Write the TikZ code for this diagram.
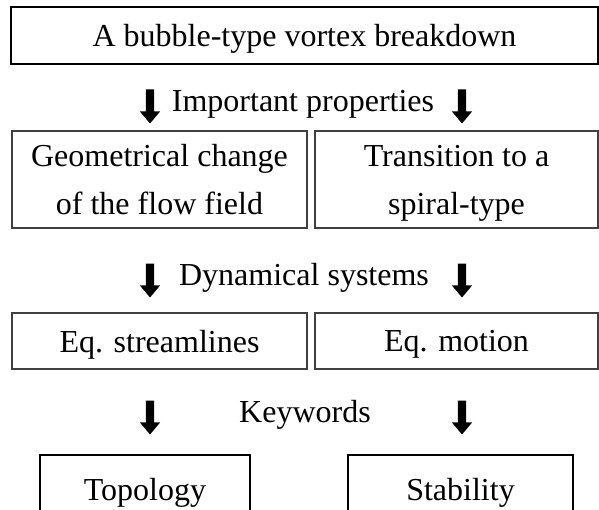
\documentclass[tikz,border=0pt]{standalone}
\usepackage{fontspec}
\setmainfont{Liberation Serif}
\usepackage{tikz}
\usetikzlibrary{arrows.meta}
\usetikzlibrary{positioning, shapes.arrows}
\tikzset{
main box/.style = { rectangle, draw = black, line width = 2pt, fill = white, minimum width = 587pt, minimum height = 57pt, text depth = 0pt },
sub box/.style = { rectangle, draw = black!75, line width = 1.2pt, fill = white, align = center, text depth = 0pt },
key box/.style = { rectangle, draw = black, line width = 2pt, fill = white, minimum height = 76pt },
down arrow/.style = { single arrow, draw = none, fill = black, shape border rotate = 270, inner sep = 4pt, minimum height = 34pt, single arrow head extend = 6pt, single arrow tip angle = 80 },
}

\begin{document}
\begin{tikzpicture}[x = 1pt, y = -1pt, font = \fontsize{32}{48}\selectfont]
      \useasboundingbox (0, 0) rectangle (599, 510);
      \clip (0, 0) rectangle (599, 510);
      % first level
      \node[main box] (vb) at (304.5, 35.5) {A bubble-type vortex breakdown};
      \node (prop) at (303, 104) {Important properties};
      \node[down arrow] (prop l) at (150, 104) {};
      \node[down arrow] (prop r) at (462, 104) {};
      % properties
      \node[sub box, minimum width = 295pt, minimum height = 97pt] (geo) at (159.5, 179.5) {Geometrical change\\of the flow field};
      \node[sub box, minimum width = 283pt, minimum height = 97pt] (spi) at (456.5, 179.5) {Transition to a\\spiral-type};
      \node (dyn) at (304, 278) {Dynamical systems};
      \node[down arrow] (dyn l) at (150, 278) {};
      \node[down arrow] (dyn r) at (462, 278) {};
      % equations
      \node[sub box, minimum width = 295pt, minimum height = 56pt] (str) at (159.5, 341) {Eq. streamlines};
      \node[sub box, minimum width = 283pt, minimum height = 56pt] (mot) at (456.5, 341) {Eq. motion};
      \node (key) at (305, 415) {Keywords};
      \node[down arrow] (key l) at (150, 415) {};
      \node[down arrow] (key r) at (462, 415) {};
      % keywords
      \node[key box, minimum width = 210pt] (top) at (145, 493) {Topology};
      \node[key box, minimum width = 225pt] (sta) at (460.5, 493) {Stability};
\end{tikzpicture}
\end{document}
